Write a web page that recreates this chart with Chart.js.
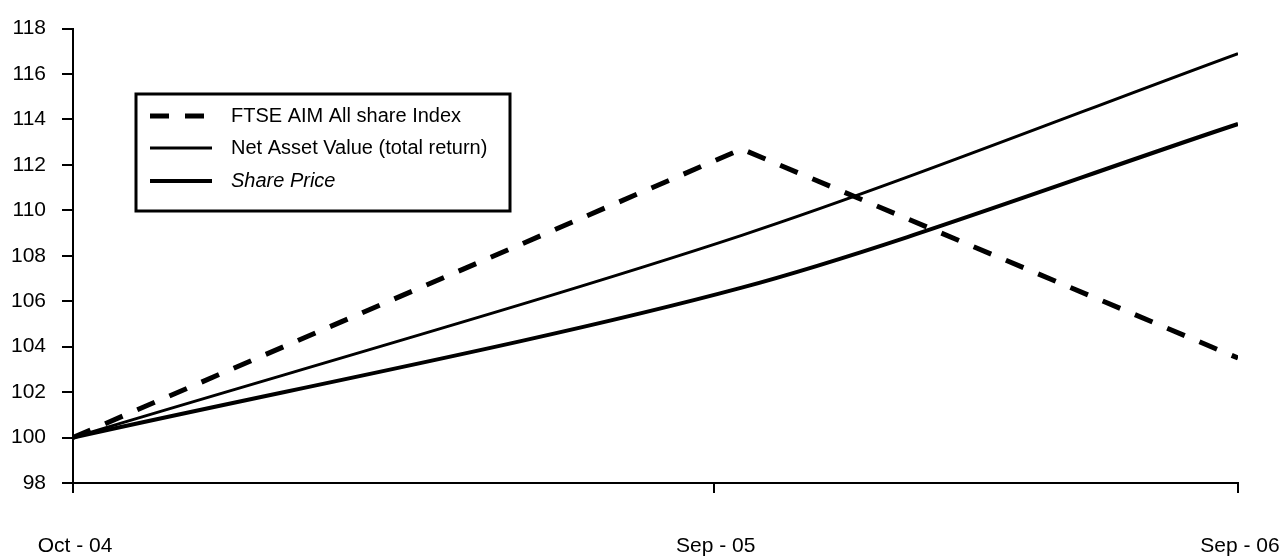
<!DOCTYPE html>
<html>
<head>
<meta charset="utf-8">
<script src="https://cdn.jsdelivr.net/npm/chart.js@4"></script>
<style>
  html, body { margin: 0; padding: 0; background: #fff; }
  #wrap { width: 1282px; height: 559px; }
</style>
</head>
<body>
<div id="wrap"><canvas id="perf-chart"></canvas></div>
<script>
// data
var tickLabels = ['Oct - 04', 'Sep - 05', 'Sep - 06'];
var tickPositions = [0, 11, 20];
var pointPositions = [0, 11.48, 20];
var ftseAim = [100, 112.7, 103.5];
var navTotalReturn = [100, 108.9, 116.9];
var sharePrice = [100, 106.6, 113.8];
var yTicks = [98, 100, 102, 104, 106, 108, 110, 112, 114, 116, 118];

var FONT = '"Liberation Sans", Arial, sans-serif';

function toPoints(values) {
    return values.map(function(v, i){ return { x: pointPositions[i], y: v }; });
}

// x labels drawn under the ticks
var xLabelPlugin = {
    id: 'xLabels',
    afterDraw: function(chart) {
        var ctx = chart.ctx;
        var xs = chart.scales.x;
        ctx.save();
        ctx.fillStyle = '#000';
        ctx.font = '21px ' + FONT;
        ctx.textBaseline = 'middle';
        ctx.textAlign = 'center';
        tickPositions.forEach(function(p, i){
            ctx.fillText(tickLabels[i], xs.getPixelForValue(p) + 2, 546);
        });
        ctx.restore();
    }
};

// boxed legend in the upper left
var boxLegendPlugin = {
    id: 'boxLegend',
    afterDraw: function(chart) {
        var ctx = chart.ctx;
        ctx.save();
        ctx.strokeStyle = '#000';
        ctx.lineWidth = 3;
        ctx.strokeRect(136, 94, 374, 117);
        var rows = [116, 148, 181];
        chart.data.datasets.forEach(function(ds, i){
            var y = rows[i];
            ctx.beginPath();
            ctx.setLineDash(ds.borderDash || []);
            ctx.lineWidth = ds.borderWidth;
            ctx.moveTo(150, y);
            ctx.lineTo(212, y);
            ctx.stroke();
            ctx.setLineDash([]);
            ctx.fillStyle = '#000';
            ctx.font = (i === 2 ? 'italic ' : '') + '20px ' + FONT;
            ctx.textAlign = 'left';
            ctx.textBaseline = 'middle';
            ctx.fillText(ds.label, 231, y);
        });
        ctx.restore();
    }
};

var ctx = document.getElementById('perf-chart');
var chart = new Chart(ctx, {
    type: 'line',
    data: {
        datasets: [
            {
                label: 'FTSE AIM All share Index',
                data: toPoints(ftseAim),
                borderColor: '#000',
                borderWidth: 5,
                borderDash: [19, 16],
                pointRadius: 0,
                tension: 0
            },
            {
                label: 'Net Asset Value (total return)',
                data: toPoints(navTotalReturn),
                borderColor: '#000',
                borderWidth: 3,
                pointRadius: 0,
                tension: 0.3
            },
            {
                label: 'Share Price',
                data: toPoints(sharePrice),
                borderColor: '#000',
                borderWidth: 4,
                pointRadius: 0,
                tension: 0.3
            }
        ]
    },
    options: {
        responsive: true,
        maintainAspectRatio: false,
        animation: false,
        layout: { padding: { top: 22, right: 44, bottom: 0, left: 0 } },
        plugins: {
            legend: { display: false },
            tooltip: { enabled: false }
        },
        scales: {
            x: {
                type: 'linear',
                min: 0,
                max: 20,
                afterBuildTicks: function(scale){
                    scale.ticks = tickPositions.map(function(v){ return { value: v }; });
                },
                afterFit: function(scale){ scale.height = 76; },
                ticks: { display: false },
                grid: {
                    drawOnChartArea: false,
                    drawTicks: true,
                    tickLength: 10,
                    color: '#000',
                    lineWidth: 2
                },
                border: { display: true, color: '#000', width: 2 }
            },
            y: {
                min: 98,
                max: 118,
                afterBuildTicks: function(scale){
                    scale.ticks = yTicks.map(function(v){ return { value: v }; });
                },
                afterFit: function(scale){ scale.width = 73; },
                ticks: {
                    color: '#000',
                    padding: 16,
                    font: { family: FONT, size: 21 }
                },
                grid: {
                    drawOnChartArea: false,
                    drawTicks: true,
                    tickLength: 11,
                    color: '#000',
                    lineWidth: 2
                },
                border: { display: true, color: '#000', width: 2 }
            }
        }
    },
    plugins: [xLabelPlugin, boxLegendPlugin]
});
</script>
</body>
</html>
